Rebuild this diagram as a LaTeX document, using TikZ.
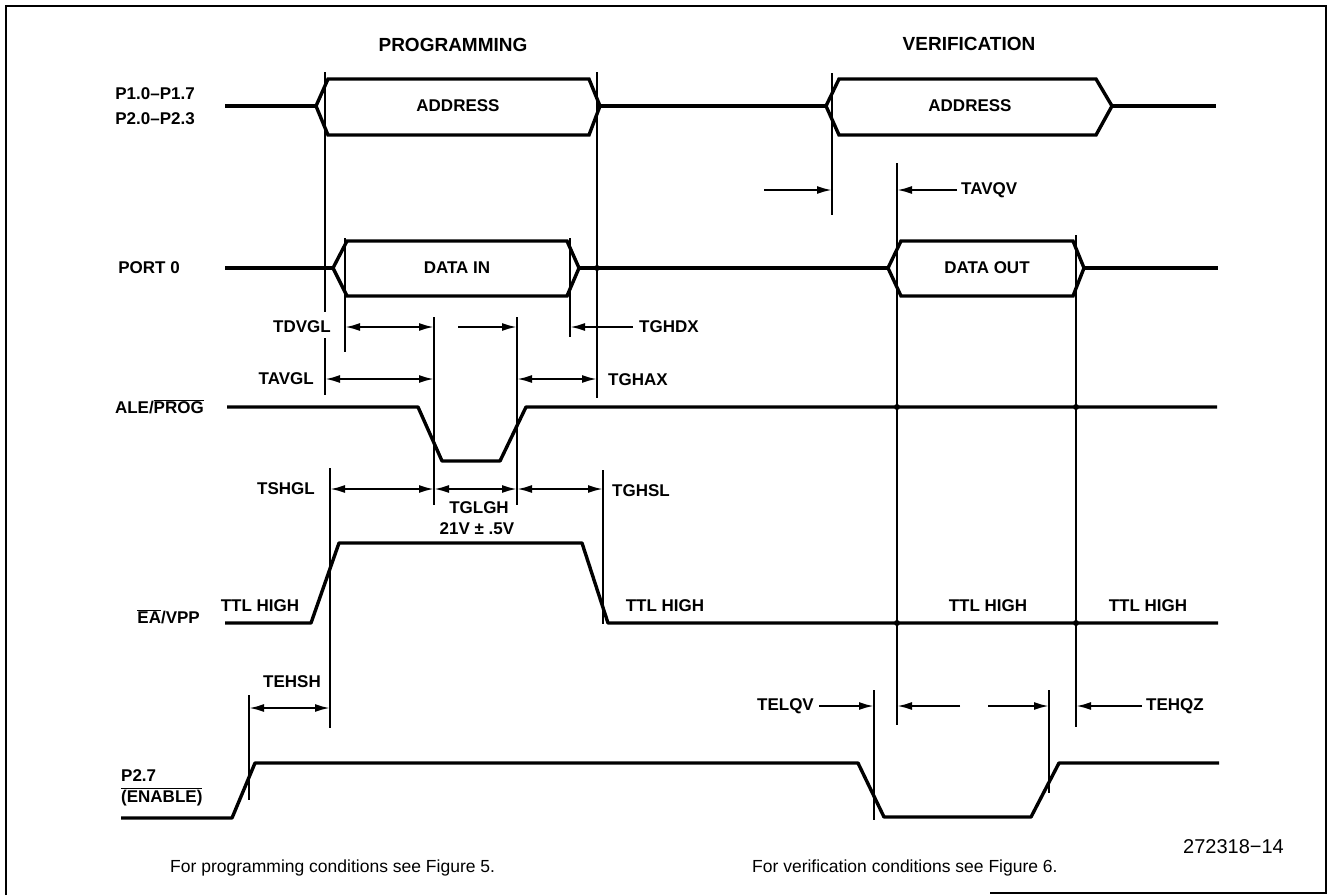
\documentclass[tikz,border=0pt]{standalone}
\usepackage{fontspec}
\usepackage{tikz}
\usetikzlibrary{arrows.meta,positioning,calc}
\setmainfont{Liberation Sans}
\newcommand{\ovl}[1]{$\overline{\mbox{#1}}$}

\begin{document}
\begin{tikzpicture}[
    x=1pt, y=-1pt,
    sig/.style={line width=3.4pt, line join=round},
    bus/.style={line width=3.4pt, line join=miter},
    vline/.style={line width=2.1pt},
    dim/.style={{Latex[length=15pt,width=8pt]}-{Latex[length=15pt,width=8pt]}, line width=2.1pt},
    tip/.style={-{Latex[length=15pt,width=8pt]}, line width=2.1pt},
    lbl/.style={font=\bfseries\fontsize{17}{20}\selectfont, inner sep=0pt},
    head/.style={font=\bfseries\fontsize{19}{22}\selectfont, inner sep=0pt},
    note/.style={font=\fontsize{17.5}{21}\selectfont, inner sep=0pt},
    dot/.style={circle, fill, inner sep=0pt, minimum size=6pt}
]
    \useasboundingbox (0,0) rectangle (1330,895);
    % frame
    \draw[line width=1.6pt] (6,895) -- (6,6) -- (1326,6) -- (1326,893) -- (990,893);

    % headings and signal names
    \node[head] (prog) at (453,45) {PROGRAMMING};
    \node[head] (verif) at (969,44) {VERIFICATION};
    \node[lbl, anchor=east] (p1) at (195,94) {P1.0--P1.7};
    \node[lbl, anchor=east] (p2) at (195,119) {P2.0--P2.3};
    \node[lbl, anchor=east] (port) at (180,268) {PORT 0};
    \node[lbl, anchor=east] (ale) at (204,407) {ALE/\ovl{PROG}};
    \node[lbl, anchor=east] (ea) at (200,617) {\ovl{EA}/VPP};
    \node[lbl, anchor=west] (p27) at (121,776) {P2.7};
    \node[lbl, anchor=west] (enable) at (121,797) {\ovl{(ENABLE)}};

    % row levels
    \coordinate (rAV) at (0,190);
    \coordinate (rDV) at (0,327);
    \coordinate (rAG) at (0,379);
    \coordinate (rSH) at (0,489);
    \coordinate (rEH) at (0,708);
    \coordinate (rEL) at (0,706);

    % address bus
    \draw[sig] (225,106) -- (316,106);
    \draw[bus] (316,106) -- (328,79) -- (589,79) -- (600,106) -- (589,135) -- (328,135) -- cycle;
    \draw[sig] (600,106) -- (826,106);
    \draw[bus] (826,106) -- (839,79) -- (1096,79) -- (1112,106) -- (1096,135) -- (839,135) -- cycle;
    \draw[sig] (1112,106) -- (1216,106);
    \node[lbl] (addr1) at (458,106) {ADDRESS};
    \node[lbl] (addr2) at (970,106) {ADDRESS};

    % port 0
    \draw[sig] (225,268) -- (333,268);
    \draw[bus] (333,268) -- (347,241) -- (567,241) -- (579,268) -- (567,296) -- (347,296) -- cycle;
    \draw[sig] (579,268) -- (888,268);
    \draw[bus] (888,268) -- (901,241) -- (1073,241) -- (1084,268) -- (1073,296) -- (901,296) -- cycle;
    \draw[sig] (1084,268) -- (1218,268);
    \node[lbl] (din) at (457,268) {DATA IN};
    \node[lbl] (dout) at (987,268) {DATA OUT};

    % ALE/PROG, EA/VPP, P2.7
    \draw[sig] (227,407) -- (418,407) -- (442,461) -- (500,461) -- (526,407) -- (1217,407);
    \draw[sig] (225,623) -- (311,623) -- (339,543) -- (582,543) -- (608,623) -- (1218,623);
    \draw[sig] (121,818) -- (232,818) -- (255,763) -- (858,763) -- (884,817) -- (1031,817) -- (1059,763) -- (1219,763);

    % timing marks
    \coordinate (v1a) at (325,72);   \coordinate (v1b) at (325,312);
    \coordinate (v1c) at (325,338);  \coordinate (v1d) at (325,395);
    \coordinate (v2a) at (345,238);  \coordinate (v2b) at (345,352);
    \coordinate (v3a) at (434,317);  \coordinate (v3b) at (434,505);
    \coordinate (v4a) at (517,317);  \coordinate (v4b) at (517,505);
    \coordinate (v5a) at (570,238);  \coordinate (v5b) at (570,337);
    \coordinate (v6a) at (597,72);   \coordinate (v6b) at (597,398);
    \coordinate (v7a) at (330,468);  \coordinate (v7b) at (330,728);
    \coordinate (v8a) at (249,695);  \coordinate (v8b) at (249,800);
    \coordinate (v9a) at (603,470);  \coordinate (v9b) at (603,624);
    \coordinate (v10a) at (897,163); \coordinate (v10b) at (897,725);
    \coordinate (v11a) at (1076,235);\coordinate (v11b) at (1076,727);
    \coordinate (v12a) at (832,73);  \coordinate (v12b) at (832,215);
    \coordinate (v13a) at (874,690); \coordinate (v13b) at (874,820);
    \coordinate (v14a) at (1049,690);\coordinate (v14b) at (1049,793);
    \foreach \v in {v1,v2,v3,v4,v5,v6,v7,v8,v9,v10,v11,v12,v13,v14}
        \draw[vline] (\v a) -- (\v b);
    \draw[vline] (v1c) -- (v1d);

    \node[dot] (j1) at (597,268) {};
    \node[dot] (j2) at (897,407) {};
    \node[dot] (j3) at (1076,407) {};
    \node[dot] (j4) at (897,623) {};
    \node[dot] (j5) at (1076,623) {};

    % programming intervals
    \node[lbl, anchor=east] (tdvgl) at (331,327) {TDVGL};
    \draw[dim] (v2a |- rDV) -- (v3a |- rDV);
    \coordinate (m1) at (458,327);
    \draw[tip] (m1) -- (v4a |- rDV);
    \node[lbl, anchor=west] (tghdx) at (639,327) {TGHDX};
    \draw[tip] (tghdx.west) ++(-6,0) -- (v5a |- rDV);
    \node[lbl, anchor=east] (tavgl) at (314,379) {TAVGL};
    \draw[dim] (v1c |- rAG) -- (v3a |- rAG);
    \draw[dim] (v4a |- rAG) -- (v6a |- rAG);
    \node[lbl, anchor=west] (tghax) at (608,380) {TGHAX};
    \node[lbl, anchor=east] (tshgl) at (315,489) {TSHGL};
    \draw[dim] (v7a |- rSH) -- (v3a |- rSH);
    \draw[dim] (v3a |- rSH) -- (v4a |- rSH);
    \draw[dim] (v4a |- rSH) -- (v9a |- rSH);
    \node[lbl, anchor=west] (tghsl) at (612,491) {TGHSL};
    \node[lbl] (tglgh) at (479,508) {TGLGH};
    \node[lbl] (vpp) at (477,529) {21V ± .5V};
    \node[lbl] (tehsh) at (292,682) {TEHSH};
    \draw[dim] (v8a |- rEH) -- (v7a |- rEH);
    \node[lbl] (ttl1) at (260,606) {TTL HIGH};
    \node[lbl] (ttl2) at (665,606) {TTL HIGH};
    \node[lbl] (ttl3) at (988,606) {TTL HIGH};
    \node[lbl] (ttl4) at (1148,606) {TTL HIGH};

    % verification intervals
    \coordinate (m2) at (764,190);
    \draw[tip] (m2) -- (v12a |- rAV);
    \node[lbl, anchor=west] (tavqv) at (961,190) {TAVQV};
    \draw[tip] (tavqv.west) ++(-4,0) -- (v10a |- rAV);
    \node[lbl, anchor=east] (telqv) at (814,706) {TELQV};
    \draw[tip] (telqv.east) ++(5,0) -- (v13a |- rEL);
    \coordinate (m3) at (960,706);
    \coordinate (m4) at (988,706);
    \draw[tip] (m3) -- (v10a |- rEL);
    \draw[tip] (m4) -- (v14a |- rEL);
    \node[lbl, anchor=west] (tehqz) at (1146,706) {TEHQZ};
    \draw[tip] (tehqz.west) ++(-4,0) -- (v11a |- rEL);

    % notes
    \node[note, anchor=west, font=\fontsize{20}{24}\selectfont] (fig) at (1183,847) {272318−14};
    \node[note, anchor=west] (n1) at (170,868) {For programming conditions see Figure 5.};
    \node[note, anchor=west] (n2) at (752,868) {For verification conditions see Figure 6.};
\end{tikzpicture}
\end{document}
